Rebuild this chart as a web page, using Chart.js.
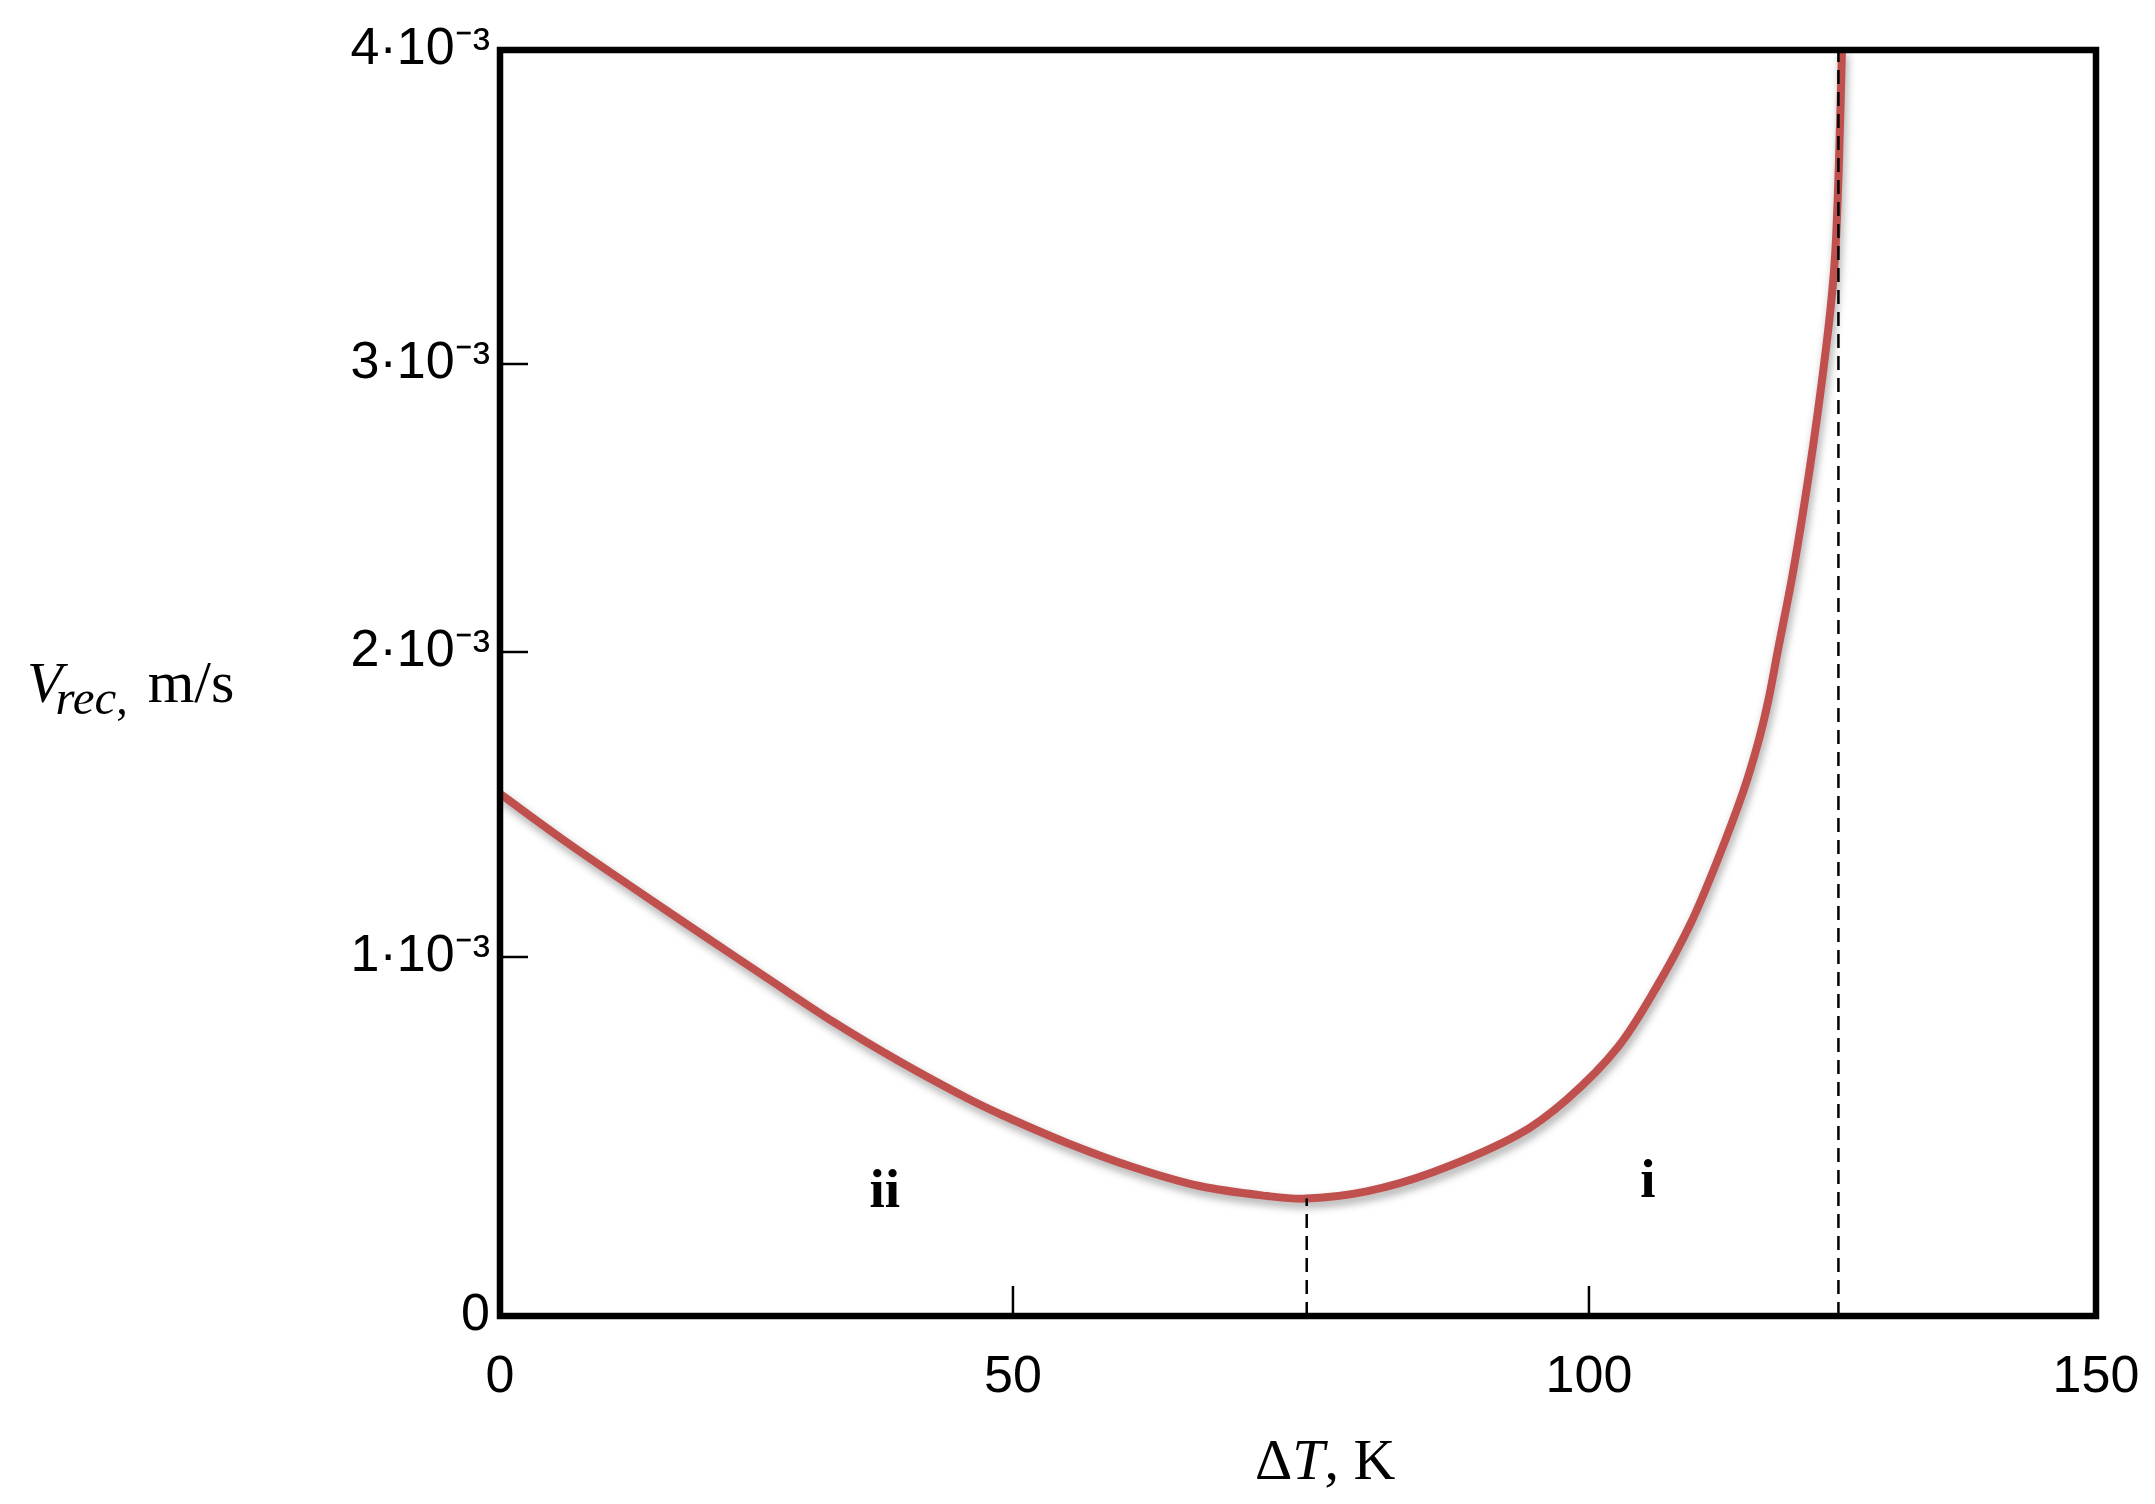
<!DOCTYPE html>
<html>
<head>
<meta charset="utf-8">
<script src="https://cdn.jsdelivr.net/npm/chart.js@4.4.0/dist/chart.umd.min.js"></script>
<style>
  html, body { margin: 0; padding: 0; background: #ffffff; overflow: hidden; }
  #c { display: block; width: 2155px; height: 1504px; }
</style>
</head>
<body>
<canvas id="c" width="2155" height="1504"></canvas>
<script>
// ---------------- DATA ----------------
// Temperature difference ΔT, K
const deltaT = [0, 6.5, 13.0, 19.5, 26.0, 32.5, 39.0, 45.5, 48.7, 54.7, 60.4, 66.2, 72.1, 75.5,
  80.7, 86.5, 93.8, 98.1, 102.8, 106.7, 110.0, 112.6, 115.2, 116.7, 117.7, 118.6, 120.0,
  121.1, 122.1, 123.0, 123.8, 124.3, 124.65, 124.95];
// Recrystallisation velocity V_rec, m/s
const vRec = [1.535e-3, 1.376e-3, 1.226e-3, 1.078e-3, 0.942e-3, 0.819e-3, 0.708e-3, 0.607e-3,
  0.563e-3, 0.482e-3, 0.415e-3, 0.362e-3, 0.334e-3, 0.327e-3, 0.347e-3, 0.401e-3, 0.504e-3,
  0.604e-3, 0.747e-3, 0.918e-3, 1.108e-3, 1.311e-3, 1.541e-3, 1.705e-3, 1.843e-3, 2.000e-3,
  2.253e-3, 2.483e-3, 2.715e-3, 2.948e-3, 3.169e-3, 3.360e-3, 3.640e-3, 4.000e-3];
// Axis ticks
const xTicks = [0, 50, 100, 150];
const yTicks = [0, 0.001, 0.002, 0.003, 0.004];
// Marker lines: minimum of the curve and the limiting ΔT
const minimumT = [75.5];
const minimumV = [0.327e-3];
const limitT = [124.6];
// Region labels
const regionNames = ['ii', 'i'];
const regionT = [37.5, 105.8];
const regionV = [0.304e-3, 0.331e-3];

// ---------------- piecewise-linear scale (reference axis spacing) ----------------
const KNOTS = {
  x: { values: xTicks, fracs: [0, 0.3214, 0.6823, 1] },
  y: { values: yTicks, fracs: [0, 0.2836, 0.5245, 0.7520, 1] }
};
function toFrac(k, v) {
  const vs = k.values, fs = k.fracs, n = vs.length;
  let i = 1;
  while (i < n - 1 && v > vs[i]) i++;
  return fs[i - 1] + (v - vs[i - 1]) * (fs[i] - fs[i - 1]) / (vs[i] - vs[i - 1]);
}
function fromFrac(k, f) {
  const vs = k.values, fs = k.fracs, n = vs.length;
  let i = 1;
  while (i < n - 1 && f > fs[i]) i++;
  return vs[i - 1] + (f - fs[i - 1]) * (vs[i] - vs[i - 1]) / (fs[i] - fs[i - 1]);
}
class PiecewiseScale extends Chart.LinearScale {
  getPixelForValue(value) {
    if (value === null || value === undefined || isNaN(value)) return NaN;
    return this.getPixelForDecimal(toFrac(KNOTS[this.id], value));
  }
  getValueForPixel(pixel) {
    return fromFrac(KNOTS[this.id], this.getDecimalForPixel(pixel));
  }
}
PiecewiseScale.id = 'piecewise';
Chart.register(PiecewiseScale);

// ---------------- plugins ----------------
const curveShadow = {
  id: 'curveShadow',
  beforeDatasetDraw(chart, args) {
    if (args.index === 0) {
      const ctx = chart.ctx;
      ctx.save();
      ctx.shadowColor = 'rgba(0,0,0,0.35)';
      ctx.shadowBlur = 8;
      ctx.shadowOffsetX = 2;
      ctx.shadowOffsetY = 5;
    }
  },
  afterDatasetDraw(chart, args) {
    if (args.index === 0) chart.ctx.restore();
  }
};

function drawRich(ctx, segs, x, y) {
  let cx = x;
  for (const s of segs) {
    ctx.font = s.font;
    cx += (s.dx || 0);
    ctx.fillText(s.text, cx, y + (s.dy || 0));
    cx += ctx.measureText(s.text).width;
  }
}

const decor = {
  id: 'decor',
  afterDraw(chart) {
    const ctx = chart.ctx, a = chart.chartArea;
    const xs = chart.scales.x, ys = chart.scales.y;
    ctx.save();
    // inward tick marks
    ctx.strokeStyle = '#000';
    ctx.lineWidth = 2.5;
    ctx.beginPath();
    xs.ticks.forEach(t => {
      const px = xs.getPixelForValue(t.value);
      ctx.moveTo(px, a.bottom);
      ctx.lineTo(px, a.bottom - 30);
    });
    ys.ticks.forEach(t => {
      const py = ys.getPixelForValue(t.value);
      ctx.moveTo(a.left, py);
      ctx.lineTo(a.left + 28, py);
    });
    ctx.stroke();
    // frame
    ctx.lineWidth = 6.5;
    ctx.strokeRect(a.left, a.top, a.right - a.left, a.bottom - a.top);

    // region labels
    ctx.fillStyle = '#000';
    ctx.font = 'bold 55px "Liberation Serif", "Times New Roman", serif';
    ctx.textAlign = 'center';
    ctx.textBaseline = 'alphabetic';
    regionNames.forEach((n, i) => {
      ctx.fillText(n, xs.getPixelForValue(regionT[i]), ys.getPixelForValue(regionV[i]));
    });

    // axis titles
    ctx.textAlign = 'left';
    const serif = '"Liberation Serif", "Times New Roman", serif';
    drawRich(ctx, [
      { text: 'V', font: 'italic 58px ' + serif },
      { text: 'rec', font: 'italic 49px ' + serif, dy: 12, dx: -7 },
      { text: ',', font: '46px ' + serif, dy: 12 },
      { text: ' m/s', font: '60px ' + serif, dx: 5 }
    ], 27, 702);
    drawRich(ctx, [
      { text: 'Δ', font: '58px ' + serif },
      { text: 'T', font: 'italic 58px ' + serif },
      { text: ', K', font: '58px ' + serif }
    ], 1255, 1479);
    ctx.restore();
  }
};

// ---------------- chart ----------------
const tickFont = { family: '"Liberation Sans", Arial, sans-serif', size: 52 };
new Chart(document.getElementById('c'), {
  type: 'line',
  data: {
    datasets: [
      {
        data: deltaT.map((t, i) => ({ x: t, y: vRec[i] })),
        borderColor: 'rgb(192,80,77)',
        borderWidth: 8,
        pointRadius: 0,
        fill: false,
        tension: 0.35,
        order: 1
      },
      {
        data: [{ x: minimumT[0], y: 0 }, { x: minimumT[0], y: minimumV[0] }],
        borderColor: '#000',
        borderWidth: 2.5,
        borderDash: [14, 8],
        pointRadius: 0,
        fill: false,
        order: 0
      },
      {
        data: [{ x: limitT[0], y: 0 }, { x: limitT[0], y: yTicks[yTicks.length - 1] }],
        borderColor: '#000',
        borderWidth: 2.5,
        borderDash: [14, 8],
        pointRadius: 0,
        fill: false,
        order: 0
      }
    ]
  },
  options: {
    responsive: false,
    maintainAspectRatio: false,
    animation: false,
    devicePixelRatio: 1,
    layout: { padding: { top: 50, right: 59, left: 0, bottom: 0 } },
    plugins: { legend: { display: false }, tooltip: { enabled: false } },
    scales: {
      x: {
        type: 'piecewise',
        min: 0, max: 150,
        afterBuildTicks: s => { s.ticks = xTicks.map(v => ({ value: v })); },
        afterFit: s => { s.height = 188; s.paddingLeft = 0; s.paddingRight = 0; },
        grid: { display: false, drawTicks: false },
        border: { display: false },
        ticks: {
          autoSkip: false, maxRotation: 0, padding: 30, color: '#000', font: tickFont,
          callback: v => String(v)
        }
      },
      y: {
        type: 'piecewise',
        min: 0, max: 0.004,
        afterBuildTicks: s => { s.ticks = yTicks.map(v => ({ value: v })); },
        afterFit: s => { s.width = 500; s.paddingTop = 0; s.paddingBottom = 0; },
        grid: { display: false, drawTicks: false },
        border: { display: false },
        ticks: {
          autoSkip: false, padding: 10, color: '#000', font: tickFont,
          callback: v => (v === 0 ? '0' : Math.round(v * 1000) + '·10⁻³')
        }
      }
    }
  },
  plugins: [curveShadow, decor]
});
</script>
</body>
</html>
